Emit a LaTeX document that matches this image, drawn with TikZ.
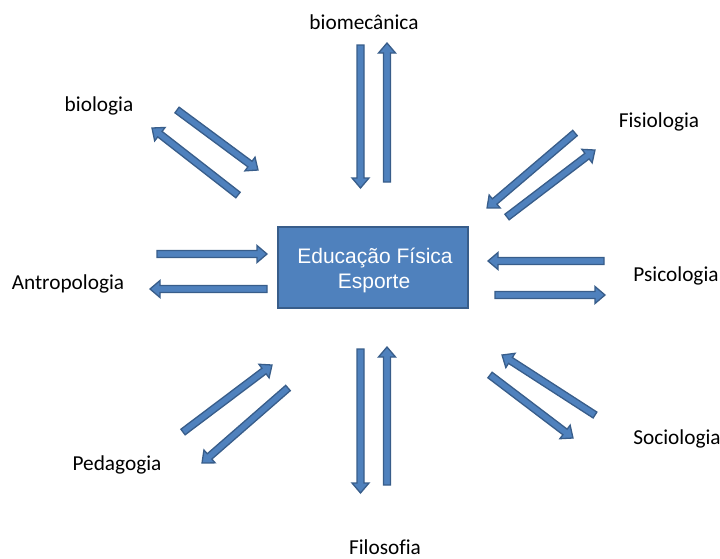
\documentclass[tikz,border=0pt]{standalone}
\usepackage{fontspec}
\setmainfont{Carlito}[Ligatures=CommonOff]
\newfontfamily\arialfont{Liberation Sans}
\usetikzlibrary{calc}
\definecolor{arrowfill}{HTML}{4F81BD}
\definecolor{arrowline}{HTML}{385D8A}
\tikzset{
  barrow/.style={fill=arrowfill, draw=arrowline, line width=1.3pt, line join=miter},
  mainbox/.style={fill=arrowfill, draw=arrowline, line width=1.8pt},
  boxtext/.style={text=white, font=\arialfont\fontsize{21}{25}\selectfont, inner sep=0pt},
  lbl/.style={text=black, font=\fontsize{21.3}{25}\selectfont, inner sep=0pt, anchor=base},
}
\newcommand{\blockarrow}[2]{%
  \path let \p1=(#1), \p2=(#2), \n1={atan2(\y2-\y1,\x2-\x1)}, \n2={veclen(\x2-\x1,\y2-\y1)} in
    [barrow, shift={(\p1)}, rotate=\n1]
    (0,-3.5) -- ({\n2-10},-3.5) -- ({\n2-10},-8.5) -- (\n2,0) -- ({\n2-10},8.5) -- ({\n2-10},3.5) -- (0,3.5) -- cycle;%
}
\begin{document}
\begin{tikzpicture}[x=1pt,y=1pt]
\useasboundingbox (0,0) rectangle (720,-558);
% central box
\draw[mainbox] (278,-227) rectangle (468,-308);
\node[boxtext, anchor=base] (t1) at (375,-263) {Educação Física};
\node[boxtext, anchor=base] (t2) at (374,-288) {Esporte};
% labels
\node[lbl] (bio) at (364,-29) {biomecânica};
\node[lbl] (biol) at (99,-111) {biologia};
\node[lbl] (fis) at (659,-127) {Fisiologia};
\node[lbl] (ant) at (68,-289) {Antropologia};
\node[lbl] (psi) at (676,-281) {Psicologia};
\node[lbl] (ped) at (117,-470) {Pedagogia};
\node[lbl] (soc) at (677,-444) {Sociologia};
\node[lbl] (fil) at (385,-554) {Filosofia};
% arrow endpoints
\coordinate (a1s) at (360.5,-45);  \coordinate (a1e) at (360.5,-188);
\coordinate (a2s) at (387,-182);   \coordinate (a2e) at (387,-43);
\coordinate (b1s) at (177,-110);   \coordinate (b1e) at (258,-170);
\coordinate (b2s) at (238,-195);   \coordinate (b2e) at (152,-128);
\coordinate (c1s) at (575,-133);   \coordinate (c1e) at (487,-208);
\coordinate (c2s) at (507,-217);   \coordinate (c2e) at (595,-150);
\coordinate (d1s) at (157,-254);   \coordinate (d1e) at (267,-254);
\coordinate (d2s) at (267,-289);   \coordinate (d2e) at (150,-289);
\coordinate (e1s) at (604,-261);   \coordinate (e1e) at (488,-261);
\coordinate (e2s) at (495,-295);   \coordinate (e2e) at (605,-295);
\coordinate (f1s) at (595,-415);   \coordinate (f1e) at (502,-355);
\coordinate (f2s) at (490,-375);   \coordinate (f2e) at (573,-438);
\coordinate (g1s) at (183,-432);   \coordinate (g1e) at (272,-365);
\coordinate (g2s) at (288,-388);   \coordinate (g2e) at (202,-463);
\coordinate (h1s) at (360.5,-349); \coordinate (h1e) at (360.5,-493);
\coordinate (h2s) at (387,-485);   \coordinate (h2e) at (387,-347);
\blockarrow{a1s}{a1e}\blockarrow{a2s}{a2e}
\blockarrow{b1s}{b1e}\blockarrow{b2s}{b2e}
\blockarrow{c1s}{c1e}\blockarrow{c2s}{c2e}
\blockarrow{d1s}{d1e}\blockarrow{d2s}{d2e}
\blockarrow{e1s}{e1e}\blockarrow{e2s}{e2e}
\blockarrow{f1s}{f1e}\blockarrow{f2s}{f2e}
\blockarrow{g1s}{g1e}\blockarrow{g2s}{g2e}
\blockarrow{h1s}{h1e}\blockarrow{h2s}{h2e}
\end{tikzpicture}
\end{document}
